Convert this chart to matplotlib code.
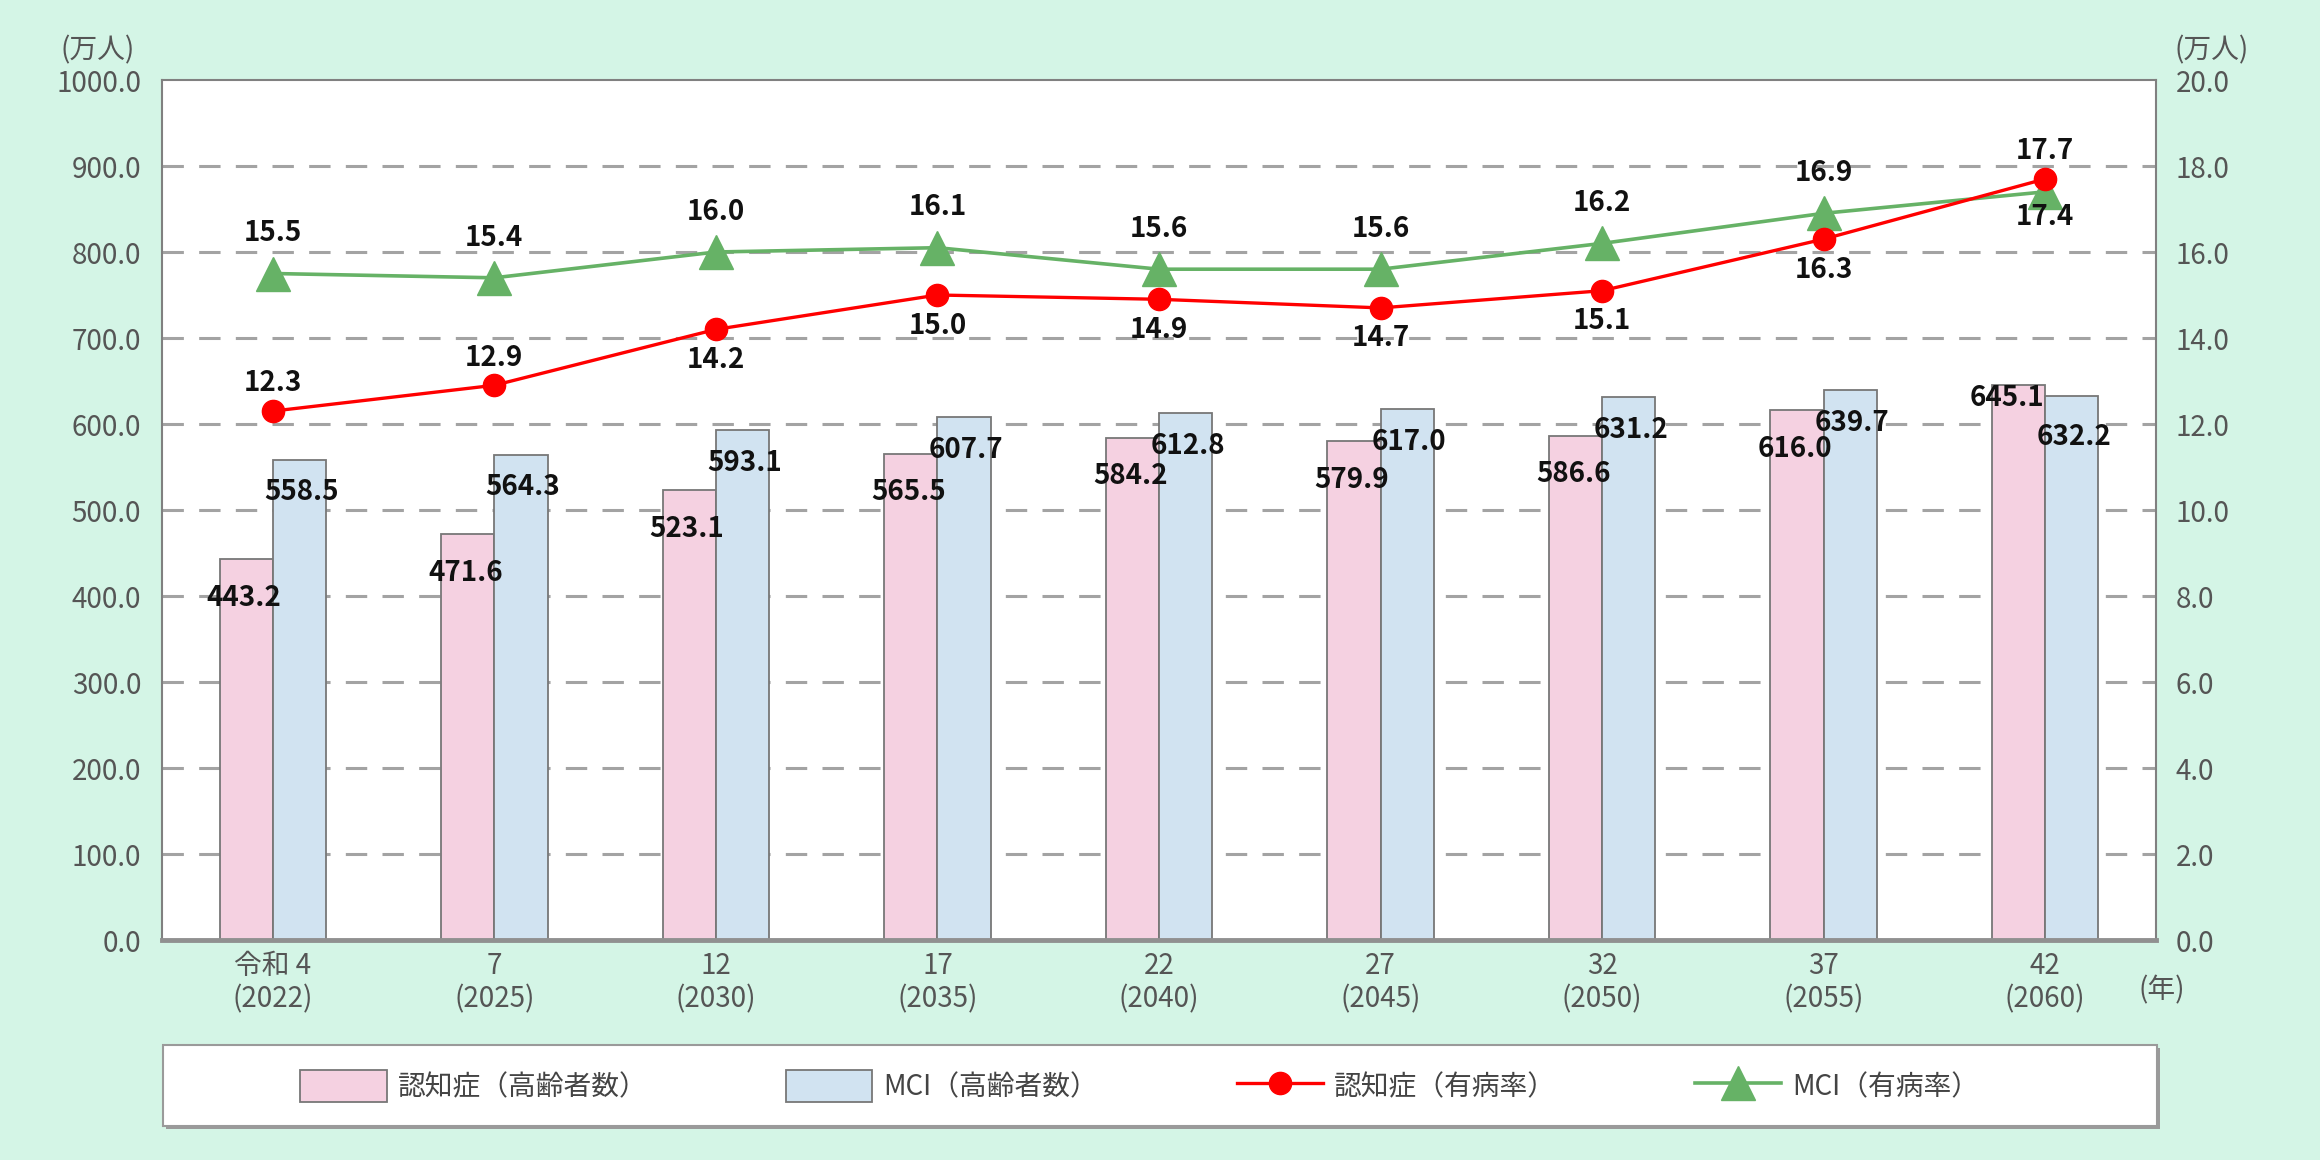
import matplotlib
matplotlib.use("Agg")
import matplotlib.pyplot as plt
import matplotlib.patches as mpatches
import numpy as np

plt.rcParams['font.family'] = ['Noto Sans CJK JP', 'DejaVu Sans']

# data
years = ['令和 4\n(2022)', '7\n(2025)', '12\n(2030)', '17\n(2035)', '22\n(2040)',
         '27\n(2045)', '32\n(2050)', '37\n(2055)', '42\n(2060)']
dementia_count = [443.2, 471.6, 523.1, 565.5, 584.2, 579.9, 586.6, 616.0, 645.1]
mci_count = [558.5, 564.3, 593.1, 607.7, 612.8, 617.0, 631.2, 639.7, 632.2]
dementia_rate = [12.3, 12.9, 14.2, 15.0, 14.9, 14.7, 15.1, 16.3, 17.7]
mci_rate = [15.5, 15.4, 16.0, 16.1, 15.6, 15.6, 16.2, 16.9, 17.4]
# label above (True) or below (False) the marker
dementia_rate_above = [True, True, False, False, False, False, False, False, True]
mci_rate_above = [True, True, True, True, True, True, True, True, False]

W, H = 2320, 1160
bg = '#d4f5e6'
pink = '#f5d1e1'
blue = '#d1e3f1'
red = '#ff0000'
green = '#66b266'
tick_col = '#555555'

fig = plt.figure(figsize=(W / 100, H / 100), dpi=100, facecolor=bg)
left, right, top, bottom = 162, 2156, 80, 940
ax = fig.add_axes([left / W, 1 - bottom / H, (right - left) / W, (bottom - top) / H])
ax.set_facecolor('white')

x = np.arange(len(years))
bw = 0.24

for yv in np.arange(100, 1000, 100):
    ax.axhline(yv, color='#a3a3a3', lw=2.2, ls=(0, (7, 5)), zorder=1)

b1 = ax.bar(x - bw / 2, dementia_count, bw, color=pink, edgecolor='#777777', lw=1.3,
            zorder=2, label='認知症（高齢者数）')
b2 = ax.bar(x + bw / 2, mci_count, bw, color=blue, edgecolor='#777777', lw=1.3,
            zorder=2, label='MCI（高齢者数）')

lab = dict(va='center', fontsize=20, fontweight='bold', color='#111111', zorder=5)
for i in range(len(x)):
    if dementia_count[i] > mci_count[i]:
        # pink bar taller: label sits left of it, MCI label drops lower
        ax.text(x[i] - 0.005, dementia_count[i] - 15, f'{dementia_count[i]:.1f}', ha='right', **lab)
        ax.text(x[i] + 0.13, mci_count[i] - 47, f'{mci_count[i]:.1f}', ha='center', **lab)
    else:
        ax.text(x[i] - 0.13, dementia_count[i] - 45, f'{dementia_count[i]:.1f}', ha='center', **lab)
        ax.text(x[i] + 0.13, mci_count[i] - 38, f'{mci_count[i]:.1f}', ha='center', **lab)

ax.set_xlim(-0.5, len(years) - 0.5)
ax.set_ylim(0, 1000)
ax.set_yticks(np.arange(0, 1001, 100))
ax.set_yticklabels([f'{v:.1f}' for v in np.arange(0, 1001, 100)])
ax.set_xticks(x)
ax.set_xticklabels(years, linespacing=1.15)
ax.tick_params(axis='y', length=0, pad=15, labelsize=20, labelcolor=tick_col)
ax.tick_params(axis='x', length=0, pad=8, labelsize=20, labelcolor=tick_col)

for s in ['left', 'right', 'top']:
    ax.spines[s].set_color('#808080')
    ax.spines[s].set_linewidth(1.5)
ax.spines['bottom'].set_color('#909090')
ax.spines['bottom'].set_linewidth(3.5)

ax2 = ax.twinx()
ax2.set_ylim(0, 20)
ax2.set_yticks(np.arange(0, 20.1, 2))
ax2.set_yticklabels([f'{v:.1f}' for v in np.arange(0, 20.1, 2)])
ax2.tick_params(axis='y', length=0, pad=14, labelsize=20, labelcolor=tick_col)
for s in ax2.spines.values():
    s.set_visible(False)

l1, = ax2.plot(x, dementia_rate, color=red, lw=2.4, marker='o', markersize=16,
               zorder=4, label='認知症（有病率）')
l2, = ax2.plot(x, mci_rate, color=green, lw=2.6, marker='^', markersize=24,
               zorder=3, label='MCI（有病率）')

for i in range(len(x)):
    off = 20 if dementia_rate_above[i] else -22
    ax2.annotate(f'{dementia_rate[i]:.1f}', (x[i], dementia_rate[i]), xytext=(0, off),
                 textcoords='offset points', ha='center', va='center', fontsize=20,
                 fontweight='bold', color='#111111')
    off = 29 if mci_rate_above[i] else -18
    ax2.annotate(f'{mci_rate[i]:.1f}', (x[i], mci_rate[i]), xytext=(0, off),
                 textcoords='offset points', ha='center', va='center', fontsize=20,
                 fontweight='bold', color='#111111')

# unit labels
fig.text(98 / W, 1 - 50 / H, '(万人)', ha='center', va='center', fontsize=20, color=tick_col)
fig.text(2212 / W, 1 - 50 / H, '(万人)', ha='center', va='center', fontsize=20, color=tick_col)
fig.text(2162 / W, 1 - 990 / H, '(年)', ha='center', va='center', fontsize=20, color=tick_col)

# legend box
shadow = mpatches.Rectangle((166 / W, 1 - 1129 / H), (right - left) / W, 81 / H,
                            transform=fig.transFigure, facecolor='#9a9a9a', edgecolor='none')
box = mpatches.Rectangle((163 / W, 1 - 1126 / H), (right - left) / W, 81 / H,
                         transform=fig.transFigure, facecolor='white', edgecolor='#9a9a9a', lw=1.5)
fig.patches.extend([shadow, box])

leg = fig.legend([b1, b2, l1, l2], [b1.get_label(), b2.get_label(), l1.get_label(), l2.get_label()],
                 ncol=4, loc='center', bbox_to_anchor=(1140 / W, 1 - 1086 / H), frameon=False,
                 fontsize=20, handlelength=3.1, handleheight=1.4, columnspacing=5.0,
                 handletextpad=0.4)
for t in leg.get_texts():
    t.set_color('#444444')

fig.savefig('out.png', dpi=100, facecolor=bg)
